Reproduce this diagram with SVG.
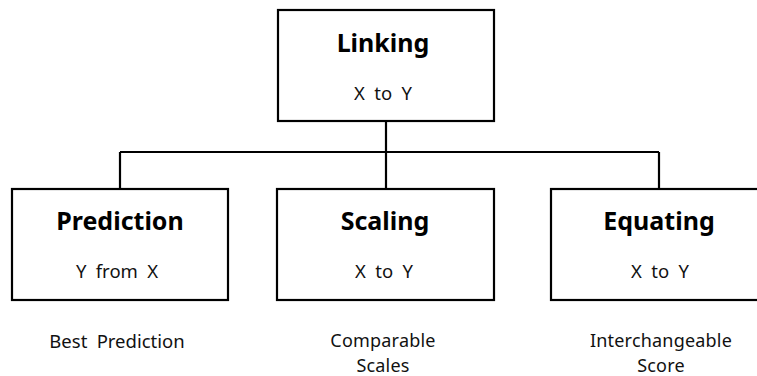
<svg xmlns="http://www.w3.org/2000/svg" width="757" height="376" viewBox="0 0 757 376">
<style>
.box{fill:#fff;stroke:#000;stroke-width:2.2}
.t{font-family:"Noto Sans","Open Sans","DejaVu Sans",sans-serif;font-weight:bold;font-size:25px;text-anchor:middle;fill:#000}
.s{font-family:"Noto Sans","Open Sans","DejaVu Sans",sans-serif;font-size:18.5px;word-spacing:4.5px;text-anchor:middle;fill:#111}
.s2{font-family:"Noto Sans","Open Sans","DejaVu Sans",sans-serif;font-size:18px;letter-spacing:0.2px;text-anchor:middle;fill:#111}
.c{fill:none;stroke:#000;stroke-width:2.2}
</style>
<rect width="757" height="376" fill="#fff"/>
<g id="connectors">
<path class="c" d="M386,121 V152 M120,152 H659 M120,152 V189 M386,152 V189 M659,152 V189"/>
</g>
<g id="linking">
<rect class="box" x="278" y="10" width="216" height="111"/>
<text class="t" x="383" y="52">Linking</text>
<text class="s" x="383" y="100">X to Y</text>
</g>
<g id="prediction">
<rect class="box" x="12" y="189" width="216" height="111"/>
<text class="t" x="120" y="230">Prediction</text>
<text class="s" x="117" y="278">Y from X</text>
</g>
<g id="scaling">
<rect class="box" x="277" y="189" width="217" height="111"/>
<text class="t" x="385" y="230">Scaling</text>
<text class="s" x="384" y="278">X to Y</text>
</g>
<g id="equating">
<rect class="box" x="551" y="189" width="216" height="111"/>
<text class="t" x="659" y="230">Equating</text>
<text class="s" x="660" y="278">X to Y</text>
</g>
<g id="labels">
<text class="s" x="117" y="348">Best Prediction</text>
<text class="s2" x="383" y="347">Comparable</text>
<text class="s2" x="383" y="372">Scales</text>
<text class="s2" x="661" y="347">Interchangeable</text>
<text class="s2" x="661" y="372">Score</text>
</g>
</svg>
